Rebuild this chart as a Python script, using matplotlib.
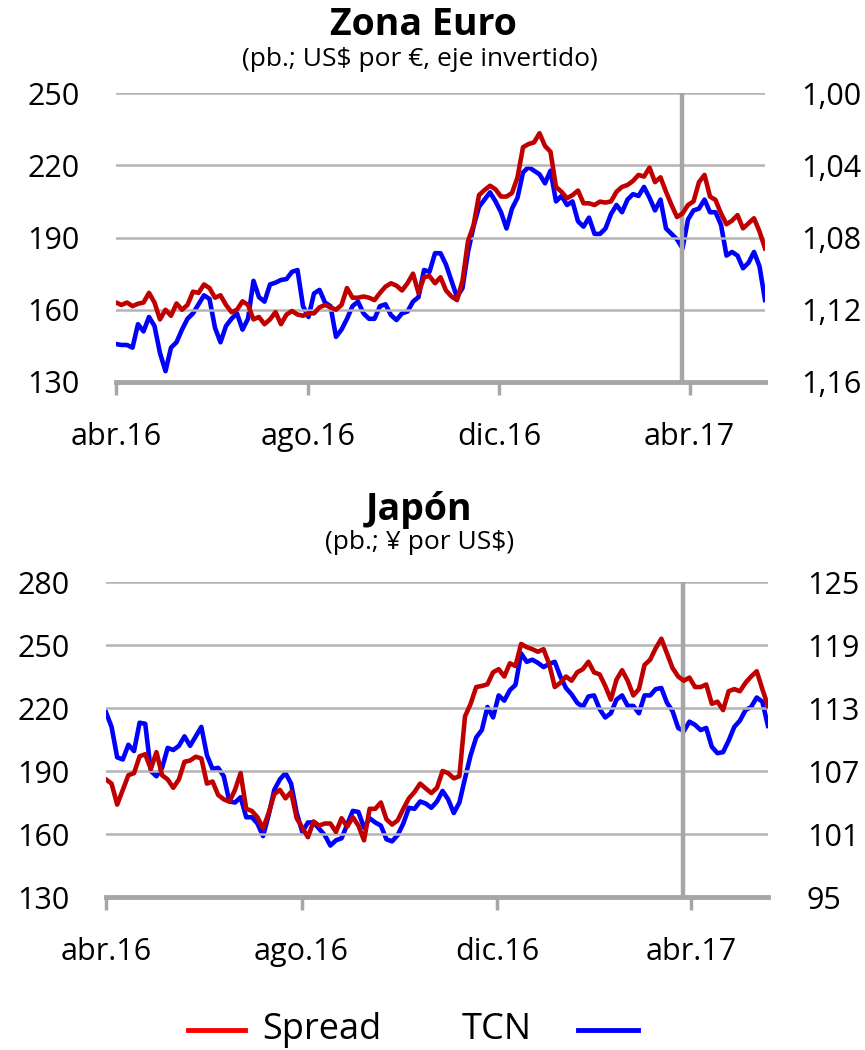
import pandas as pd
import matplotlib
matplotlib.use("Agg")
import matplotlib.pyplot as plt
from matplotlib.lines import Line2D
from matplotlib.ticker import FuncFormatter

plt.rcParams["font.family"] = ["Open Sans", "DejaVu Sans"]

# twice-weekly observations, 1 Apr 2016 to mid-May 2017
dates = pd.date_range("2016-04-01", periods=119, freq="84h")

euro_spread = [163, 162, 163, 161.5, 162.5, 163, 167, 163, 156, 160,
               157.5, 162.6, 160, 162, 167.5, 167, 170.5, 169, 165, 166,
               162, 159, 160, 163.5, 162, 156, 157, 154, 156, 159,
               154, 158, 159.5, 158, 157.5, 158.5, 158.5, 161, 162, 161,
               160, 162, 169, 165, 165, 165.5, 165, 164, 167, 169.6,
               171, 170, 168, 171, 175, 167, 173.5, 174, 171, 173.5,
               168, 165.5, 164, 172, 188.5, 195, 207.6, 209.7, 211.5, 210,
               207, 207, 208.5, 215, 227.5, 228.8, 229.5, 233.3, 228, 225.6,
               211, 209, 206.3, 207.6, 209.5, 204.2, 204.2, 203.5, 204.9, 204.5,
               205, 209, 211, 211.8, 213.5, 216, 215.3, 219, 213, 215,
               209, 203.5, 198.5, 200, 203.5, 205, 213, 216, 207, 205.6,
               200, 195.5, 197, 199.3, 193.8, 195.9, 198, 192.5, 185.5]
euro_tcn = [1.139, 1.1395, 1.1395, 1.141, 1.128, 1.132, 1.124, 1.129, 1.144, 1.154,
            1.141, 1.138, 1.131, 1.125, 1.122, 1.117, 1.112, 1.114, 1.130, 1.138,
            1.129, 1.125, 1.122, 1.131, 1.125, 1.104, 1.113, 1.1155, 1.106, 1.105,
            1.1035, 1.103, 1.099, 1.098, 1.118, 1.124, 1.111, 1.109, 1.116, 1.118,
            1.135, 1.131, 1.125, 1.118, 1.1155, 1.122, 1.125, 1.125, 1.118, 1.117,
            1.123, 1.1257, 1.122, 1.121, 1.1155, 1.113, 1.098, 1.099, 1.0887, 1.0887,
            1.095, 1.104, 1.113, 1.108, 1.088, 1.074, 1.063, 1.059, 1.055, 1.060,
            1.066, 1.075, 1.064, 1.058, 1.044, 1.041, 1.043, 1.045, 1.050, 1.043,
            1.060, 1.057, 1.062, 1.060, 1.071, 1.074, 1.069, 1.078, 1.078, 1.075,
            1.067, 1.062, 1.066, 1.059, 1.056, 1.057, 1.052, 1.058, 1.065, 1.059,
            1.075, 1.078, 1.081, 1.086, 1.070, 1.065, 1.064, 1.059, 1.066, 1.066,
            1.073, 1.090, 1.088, 1.090, 1.097, 1.094, 1.088, 1.096, 1.1146]

jp_spread = [186, 184, 174, 181, 188, 189, 197, 198, 191, 199,
             188, 186, 182, 186, 194.4, 195, 196.8, 196, 184, 185,
             178.6, 176.5, 175.4, 181, 189, 172, 171, 168, 162.7, 170,
             179, 181, 177, 180, 167.5, 163, 158.5, 166, 164, 165,
             165, 161, 167.5, 163.5, 168, 164, 157, 172, 172, 175,
             167, 164.5, 166.5, 172, 177, 180, 184, 181.7, 179.5, 182,
             190, 189, 186.5, 187.5, 216, 222, 230, 230.5, 231.3, 237,
             238.5, 235, 241.3, 240, 250.5, 249, 248, 246.8, 248, 241,
             230, 232, 235, 233, 237, 238.5, 242, 237, 236, 230.5,
             224, 233.5, 238, 233, 226, 229, 240.5, 243, 248.5, 253,
             246, 239, 235, 233, 234.5, 230, 230, 231.2, 222, 223,
             219, 228, 229, 228, 232, 235, 237.5, 229, 221]
jp_tcn = [112.6, 111.2, 108.3, 108.1, 109.5, 108.9, 111.6, 111.5, 107, 106.5,
          107.3, 109.2, 109, 109.4, 110.3, 109.4, 110.3, 111.2, 108.5, 107.2,
          107.3, 106.5, 104.1, 104, 104.5, 102.6, 102.6, 102, 100.8, 102.8,
          105.2, 106.2, 106.8, 105.8, 103, 101.2, 102.1, 102.1, 101.5, 100.9,
          99.9, 100.4, 100.6, 101.9, 103.2, 103.1, 101.6, 102.5, 102.1, 101.8,
          100.5, 100.3, 100.9, 102, 103.5, 103.4, 104.1, 103.9, 103.5, 104.1,
          105.1, 104.3, 103, 104, 106.3, 108.5, 110.2, 110.9, 113.1, 112.1,
          114.2, 113.7, 114.7, 115.2, 118.2, 117.4, 117.6, 117.3, 116.9, 117.2,
          117.4, 116, 114.9, 114.3, 113.5, 113.1, 114.1, 114.2, 112.9, 112.1,
          112.5, 113.8, 114.2, 113.2, 113.2, 112.5, 114.2, 114.2, 114.8, 114.9,
          113.5, 112.7, 111.1, 110.8, 111.7, 111.4, 110.9, 111.1, 109.3, 108.7,
          108.8, 109.9, 111.2, 111.8, 112.8, 113.1, 114, 113.6, 111.3]

xtick_dates = pd.to_datetime(["2016-04-01", "2016-08-01", "2016-12-01", "2017-04-01"])
xtick_labels = ["abr.16", "ago.16", "dic.16", "abr.17"]
marker_date = pd.Timestamp("2017-03-27")

RED = "#C00000"
BLUE = "#0000FF"
GRID = "#B4B4B4"
AXIS = "#A6A6A6"

fig = plt.figure(figsize=(8.65, 10.5), dpi=100)


def panel(rect, spread, tcn, lticks, rticks, rfmt, invert, rpad):
    ax = fig.add_axes(rect)
    ax2 = ax.twinx()
    ax.set_zorder(ax2.get_zorder() + 1)
    ax.patch.set_visible(False)

    ax.set_ylim(lticks[0], lticks[-1])
    ax.set_yticks(lticks)
    if invert:
        ax2.set_ylim(rticks[-1], rticks[0])
    else:
        ax2.set_ylim(rticks[0], rticks[-1])
    ax2.set_yticks(rticks)
    ax2.yaxis.set_major_formatter(FuncFormatter(rfmt))

    for t in lticks[1:]:
        ax.axhline(t, color=GRID, lw=1.8, zorder=0)
    ax.axvline(marker_date, color=AXIS, lw=3.2, zorder=1)

    ax2.plot(dates, tcn, color=BLUE, lw=3.3, zorder=3)
    ax.plot(dates, spread, color=RED, lw=3.3, zorder=2)

    ax.set_xlim(dates[0], dates[-1])
    ax.set_xticks(xtick_dates)
    ax.set_xticklabels(xtick_labels)
    for a in (ax, ax2):
        for s in ("top", "left", "right", "bottom"):
            a.spines[s].set_visible(False)
    ax.spines["bottom"].set_visible(True)
    ax.spines["bottom"].set_color(AXIS)
    ax.spines["bottom"].set_linewidth(3.5)
    ax.tick_params(axis="x", length=9, width=2.5, color=AXIS, pad=20, labelsize=22)
    ax.tick_params(axis="y", length=0, pad=26, labelsize=22)
    ax2.tick_params(axis="y", length=0, pad=rpad, labelsize=22)
    ax2.tick_params(axis="x", length=0)
    return ax, ax2


panel([0.1341, 0.6362, 0.7503, 0.2752], euro_spread, euro_tcn,
      [130, 160, 190, 220, 250], [1.00, 1.04, 1.08, 1.12, 1.16],
      lambda v, p: f"{v:.2f}".replace(".", ","), True, 26)
panel([0.1225, 0.1457, 0.7653, 0.3000], jp_spread, jp_tcn,
      [130, 160, 190, 220, 250, 280], [95, 101, 107, 113, 119, 125],
      lambda v, p: f"{v:.0f}", False, 28)

fig.text(0.49, 0.976, "Zona Euro", ha="center", va="center", fontsize=27, fontweight="bold")
fig.text(0.485, 0.943, "(pb.; US$ por €, eje invertido)", ha="center", va="center", fontsize=19)
fig.text(0.485, 0.514, "Japón", ha="center", va="center", fontsize=27, fontweight="bold")
fig.text(0.485, 0.483, "(pb.; ¥ por US$)", ha="center", va="center", fontsize=19)

# legend
ly = 1 - 1030 / 1050
fig.add_artist(Line2D([188 / 865, 245 / 865], [ly, ly], color="#FF0000", lw=3.5))
fig.text(262 / 865, ly, "Spread", ha="left", va="center", fontsize=26)
fig.text(462 / 865, ly, "TCN", ha="left", va="center", fontsize=26)
fig.add_artist(Line2D([578 / 865, 638 / 865], [ly, ly], color=BLUE, lw=3.5))

fig.savefig("out.png", dpi=100)
